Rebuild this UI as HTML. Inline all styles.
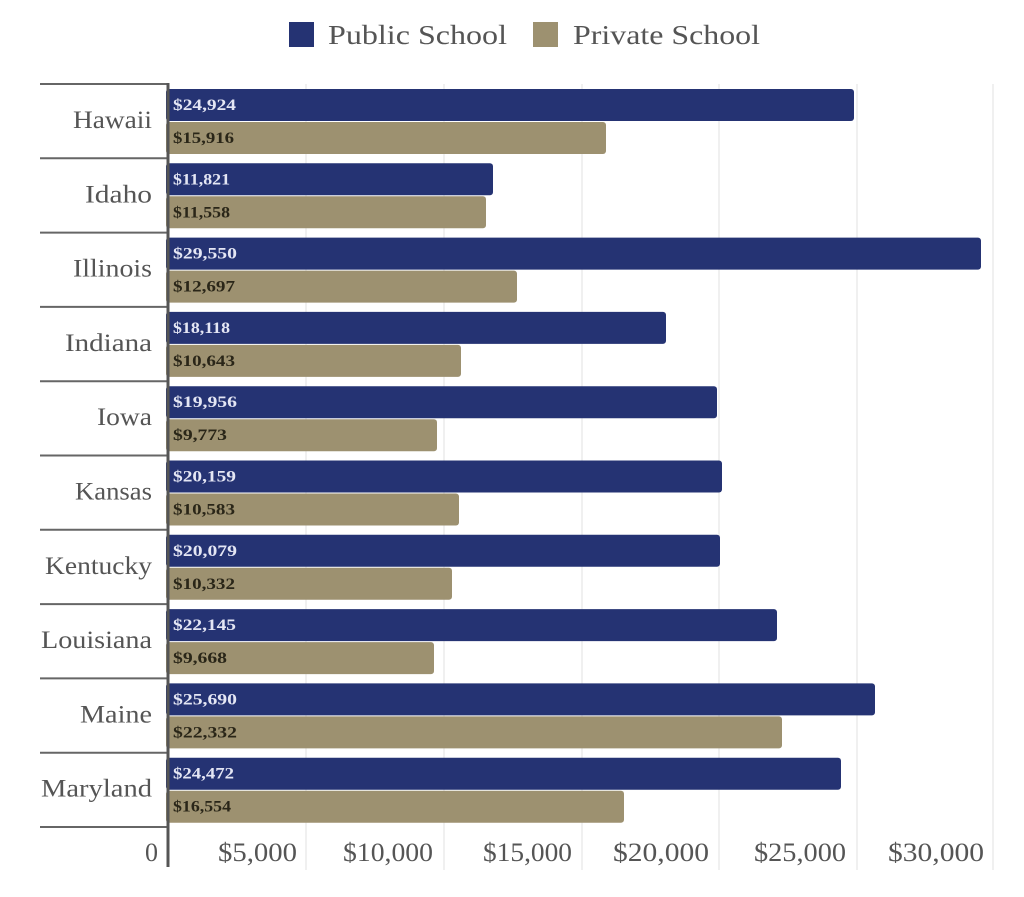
<!DOCTYPE html>
<html>
<head>
<meta charset="utf-8">
<style>
html,body{margin:0;padding:0;background:#fff;}
svg{display:block;}
text{font-family:"Liberation Serif",serif;}
</style>
</head>
<body>
<svg width="1024" height="897" viewBox="0 0 1024 897" xmlns="http://www.w3.org/2000/svg">
<rect width="1024" height="897" fill="#fff"/>
<!-- legend -->
<rect x="289" y="22" width="25" height="25" fill="#253373"/>
<text x="328" y="44" font-size="27" fill="#555" textLength="179" lengthAdjust="spacingAndGlyphs">Public School</text>
<rect x="533" y="22" width="25" height="25" fill="#9d9170"/>
<text x="573" y="44" font-size="27" fill="#555" textLength="187" lengthAdjust="spacingAndGlyphs">Private School</text>

<!-- gridlines -->
<g stroke="#ebebeb" stroke-width="1.5">
<line x1="306" y1="84" x2="306" y2="870"/>
<line x1="444" y1="84" x2="444" y2="870"/>
<line x1="582" y1="84" x2="582" y2="870"/>
<line x1="719" y1="84" x2="719" y2="870"/>
<line x1="857" y1="84" x2="857" y2="870"/>
<line x1="993" y1="84" x2="993" y2="870"/>
</g>

<!-- separators -->
<g stroke="#666" stroke-width="2">
<line x1="40" y1="84" x2="168" y2="84"/>
<line x1="40" y1="158.3" x2="168" y2="158.3"/>
<line x1="40" y1="232.6" x2="168" y2="232.6"/>
<line x1="40" y1="306.9" x2="168" y2="306.9"/>
<line x1="40" y1="381.2" x2="168" y2="381.2"/>
<line x1="40" y1="455.5" x2="168" y2="455.5"/>
<line x1="40" y1="529.8" x2="168" y2="529.8"/>
<line x1="40" y1="604.1" x2="168" y2="604.1"/>
<line x1="40" y1="678.4" x2="168" y2="678.4"/>
<line x1="40" y1="752.7" x2="168" y2="752.7"/>
<line x1="40" y1="827" x2="168" y2="827"/>
</g>

<!-- bars -->
<g>
<rect x="166" y="89" width="688" height="32" rx="3" fill="#253373"/>
<rect x="166" y="122" width="440" height="32" rx="3" fill="#9d9170"/>
<rect x="166" y="163.3" width="327" height="32" rx="3" fill="#253373"/>
<rect x="166" y="196.3" width="320" height="32" rx="3" fill="#9d9170"/>
<rect x="166" y="237.6" width="815" height="32" rx="3" fill="#253373"/>
<rect x="166" y="270.6" width="351" height="32" rx="3" fill="#9d9170"/>
<rect x="166" y="311.9" width="500" height="32" rx="3" fill="#253373"/>
<rect x="166" y="344.9" width="295" height="32" rx="3" fill="#9d9170"/>
<rect x="166" y="386.2" width="551" height="32" rx="3" fill="#253373"/>
<rect x="166" y="419.2" width="271" height="32" rx="3" fill="#9d9170"/>
<rect x="166" y="460.5" width="556" height="32" rx="3" fill="#253373"/>
<rect x="166" y="493.5" width="293" height="32" rx="3" fill="#9d9170"/>
<rect x="166" y="534.8" width="554" height="32" rx="3" fill="#253373"/>
<rect x="166" y="567.8" width="286" height="32" rx="3" fill="#9d9170"/>
<rect x="166" y="609.1" width="611" height="32" rx="3" fill="#253373"/>
<rect x="166" y="642.1" width="268" height="32" rx="3" fill="#9d9170"/>
<rect x="166" y="683.4" width="709" height="32" rx="3" fill="#253373"/>
<rect x="166" y="716.4" width="616" height="32" rx="3" fill="#9d9170"/>
<rect x="166" y="757.7" width="675" height="32" rx="3" fill="#253373"/>
<rect x="166" y="790.7" width="458" height="32" rx="3" fill="#9d9170"/>
</g>

<!-- axis -->
<line x1="168" y1="83" x2="168" y2="867" stroke="#555" stroke-width="3"/>

<!-- value labels -->
<g font-size="16" font-weight="bold" lengthAdjust="spacingAndGlyphs">
<text x="173" y="110" fill="#e4e6f4" textLength="63" lengthAdjust="spacingAndGlyphs">$24,924</text>
<text x="173" y="143" fill="#2a2618" textLength="61" lengthAdjust="spacingAndGlyphs">$15,916</text>
<text x="173" y="184.3" fill="#e4e6f4" textLength="57" lengthAdjust="spacingAndGlyphs">$11,821</text>
<text x="173" y="217.3" fill="#2a2618" textLength="57" lengthAdjust="spacingAndGlyphs">$11,558</text>
<text x="173" y="258.6" fill="#e4e6f4" textLength="64" lengthAdjust="spacingAndGlyphs">$29,550</text>
<text x="173" y="291.6" fill="#2a2618" textLength="62" lengthAdjust="spacingAndGlyphs">$12,697</text>
<text x="173" y="332.9" fill="#e4e6f4" textLength="57" lengthAdjust="spacingAndGlyphs">$18,118</text>
<text x="173" y="365.9" fill="#2a2618" textLength="62" lengthAdjust="spacingAndGlyphs">$10,643</text>
<text x="173" y="407.2" fill="#e4e6f4" textLength="64" lengthAdjust="spacingAndGlyphs">$19,956</text>
<text x="173" y="440.2" fill="#2a2618" textLength="54" lengthAdjust="spacingAndGlyphs">$9,773</text>
<text x="173" y="481.5" fill="#e4e6f4" textLength="63" lengthAdjust="spacingAndGlyphs">$20,159</text>
<text x="173" y="514.5" fill="#2a2618" textLength="62" lengthAdjust="spacingAndGlyphs">$10,583</text>
<text x="173" y="555.8" fill="#e4e6f4" textLength="64" lengthAdjust="spacingAndGlyphs">$20,079</text>
<text x="173" y="588.8" fill="#2a2618" textLength="62" lengthAdjust="spacingAndGlyphs">$10,332</text>
<text x="173" y="630.1" fill="#e4e6f4" textLength="63" lengthAdjust="spacingAndGlyphs">$22,145</text>
<text x="173" y="663.1" fill="#2a2618" textLength="54" lengthAdjust="spacingAndGlyphs">$9,668</text>
<text x="173" y="704.4" fill="#e4e6f4" textLength="64" lengthAdjust="spacingAndGlyphs">$25,690</text>
<text x="173" y="737.4" fill="#2a2618" textLength="64" lengthAdjust="spacingAndGlyphs">$22,332</text>
<text x="173" y="778.7" fill="#e4e6f4" textLength="61" lengthAdjust="spacingAndGlyphs">$24,472</text>
<text x="173" y="811.7" fill="#2a2618" textLength="58" lengthAdjust="spacingAndGlyphs">$16,554</text>
</g>

<!-- category labels -->
<g font-size="25" fill="#555" text-anchor="end">
<text x="152" y="128" textLength="79" lengthAdjust="spacingAndGlyphs">Hawaii</text>
<text x="152" y="202.3" textLength="67" lengthAdjust="spacingAndGlyphs">Idaho</text>
<text x="152" y="276.6" textLength="79" lengthAdjust="spacingAndGlyphs">Illinois</text>
<text x="152" y="350.9" textLength="87" lengthAdjust="spacingAndGlyphs">Indiana</text>
<text x="152" y="425.2" textLength="55" lengthAdjust="spacingAndGlyphs">Iowa</text>
<text x="152" y="499.5" textLength="77" lengthAdjust="spacingAndGlyphs">Kansas</text>
<text x="152" y="573.8" textLength="107" lengthAdjust="spacingAndGlyphs">Kentucky</text>
<text x="152" y="648.1" textLength="111" lengthAdjust="spacingAndGlyphs">Louisiana</text>
<text x="152" y="722.4" textLength="72" lengthAdjust="spacingAndGlyphs">Maine</text>
<text x="152" y="796.7" textLength="111" lengthAdjust="spacingAndGlyphs">Maryland</text>
</g>

<!-- tick labels -->
<g font-size="26" fill="#555" text-anchor="end">
<text x="158" y="861">0</text>
<text x="297" y="861" textLength="79" lengthAdjust="spacingAndGlyphs">$5,000</text>
<text x="433" y="861" textLength="90" lengthAdjust="spacingAndGlyphs">$10,000</text>
<text x="572" y="861" textLength="89" lengthAdjust="spacingAndGlyphs">$15,000</text>
<text x="709" y="861" textLength="96" lengthAdjust="spacingAndGlyphs">$20,000</text>
<text x="846" y="861" textLength="92" lengthAdjust="spacingAndGlyphs">$25,000</text>
<text x="984" y="861" textLength="96" lengthAdjust="spacingAndGlyphs">$30,000</text>
</g>
</svg>
</body>
</html>
